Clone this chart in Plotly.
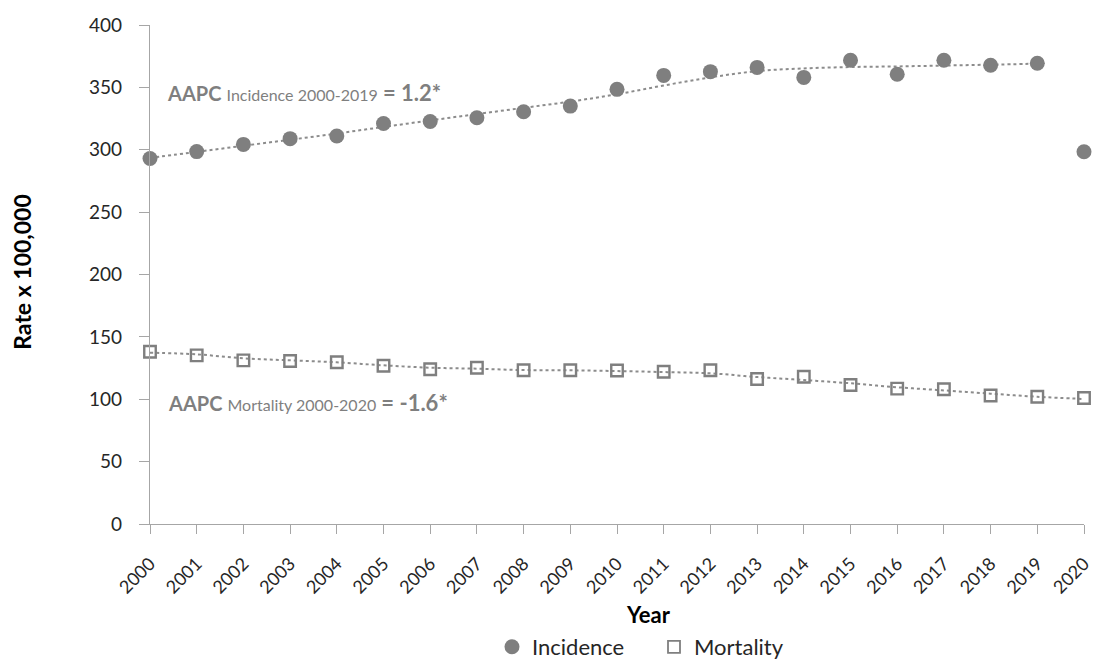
import plotly.graph_objects as go

years = list(range(2000, 2021))
incidence = [293.0, 298.5, 304.3, 308.9, 311.0, 321.0, 322.6, 325.7, 330.5, 335.0, 348.4,
             359.6, 362.6, 366.0, 358.0, 371.7, 360.5, 371.7, 367.7, 369.3, 298.4]
mortality = [138.1, 135.2, 131.2, 130.7, 129.6, 126.9, 124.0, 125.3, 123.2, 123.2, 123.0,
             122.0, 123.2, 116.2, 118.0, 111.4, 108.5, 108.0, 103.0, 102.0, 101.0]
trend_years_inc = list(range(2000, 2020))
incidence_trend = [293.5, 298.3, 303.2, 308.0, 313.0, 318.3, 323.5, 328.6, 333.6, 338.6, 344.5,
                   351.5, 358.0, 363.0, 365.2, 366.3, 366.8, 367.5, 368.2, 369.0]
mortality_trend = [137.3, 136.0, 132.8, 131.2, 129.6, 127.2, 125.3, 124.5, 123.4, 123.2, 122.6,
                   121.8, 120.8, 117.8, 115.4, 112.8, 109.6, 107.1, 104.5, 102.0, 100.2]
y_ticks = [0, 50, 100, 150, 200, 250, 300, 350, 400]

GREY = "#7F7F7F"
FONT = "Lato"
W, H = 1101, 661
ML, MR, MT, MB = 150, 8, 25, 137
PW, PH = W - ML - MR, H - MT - MB

fig = go.Figure()

trend_line = dict(color="#8C8C8C", width=2, dash="dot", shape="spline", smoothing=1)
fig.add_trace(go.Scatter(x=trend_years_inc, y=incidence_trend, mode="lines", line=trend_line,
                         showlegend=False, hoverinfo="skip", cliponaxis=False))
fig.add_trace(go.Scatter(x=years, y=mortality_trend, mode="lines", line=trend_line,
                         showlegend=False, hoverinfo="skip", cliponaxis=False))
fig.add_trace(go.Scatter(x=years, y=incidence, mode="markers",
                         marker=dict(symbol="circle", size=15, color=GREY),
                         showlegend=False, cliponaxis=False))
fig.add_trace(go.Scatter(x=years, y=mortality, mode="markers",
                         marker=dict(symbol="square-open", size=11.5, color=GREY,
                                     line=dict(width=2.4, color=GREY)),
                         showlegend=False, cliponaxis=False))

# legend entries
fig.add_trace(go.Scatter(x=[None], y=[None], mode="markers", name="Incidence",
                         marker=dict(symbol="circle", size=15, color=GREY)))
fig.add_trace(go.Scatter(x=[None], y=[None], mode="markers", name="Mortality",
                         marker=dict(symbol="square-open", size=12, color=GREY,
                                     line=dict(width=1.8, color=GREY))))

axis_col = "#A6A6A6"
fig.update_xaxes(range=[2000, 2020], tickmode="array", tickvals=years, ticktext=[str(y) for y in years],
                 tickangle=-45, showgrid=False, zeroline=False, showline=True, linecolor=axis_col,
                 linewidth=1.3, ticks="outside", ticklen=9, tickcolor=axis_col, tickwidth=1.3,
                 ticklabelstandoff=12, ticklabeloverflow="allow",
                 tickfont=dict(family=FONT, size=18, color="#262626"))
fig.update_yaxes(range=[0, 400], tickvals=y_ticks,
                 showgrid=False, zeroline=False, showline=True, linecolor=axis_col,
                 linewidth=1.3, ticks="outside", ticklen=10, tickcolor=axis_col, tickwidth=1.3,
                 ticklabelstandoff=13,
                 tickfont=dict(family=FONT, size=19, color="#262626"))

ann_font = dict(family=FONT, size=20, color=GREY)
fig.add_annotation(x=2000.33, y=346, xref="x", yref="y", xanchor="left", yanchor="middle",
                   text="<b>AAPC</b> <span style='font-size:16px'>Incidence 2000-2019</span> "
                        "<b><span style='font-size:22px'>= 1.2*</span></b>",
                   showarrow=False, font=ann_font)
fig.add_annotation(x=2000.34, y=97.2, xref="x", yref="y", xanchor="left", yanchor="middle",
                   text="<b>AAPC</b> <span style='font-size:16px'>Mortality 2000-2020</span> "
                        "<b><span style='font-size:22px'>= -1.6*</span></b>",
                   showarrow=False, font=ann_font)

fig.add_annotation(x=(20.5 - ML) / PW, y=(H - MB - 272) / PH, xref="paper", yref="paper",
                   xanchor="center", yanchor="middle",
                   text="<b>Rate x 100,000</b>", textangle=-90, showarrow=False,
                   font=dict(family=FONT, size=23, color="#000000"))
fig.add_annotation(x=(653 - ML) / PW, y=(H - MB - 614) / PH, xref="paper", yref="paper",
                   xanchor="center", yanchor="middle",
                   text="<b>Year</b>", showarrow=False,
                   font=dict(family=FONT, size=22, color="#000000"))

fig.update_layout(
    width=W, height=H,
    margin=dict(l=ML, r=MR, t=MT, b=MB),
    paper_bgcolor="white", plot_bgcolor="white",
    showlegend=True,
    legend=dict(orientation="h", xref="container", yref="container",
                x=492 / W, y=(H - 647) / H, xanchor="left", yanchor="middle",
                font=dict(family=FONT, size=22, color="#262626"),
                bgcolor="rgba(0,0,0,0)", entrywidth=117),
)

fig.write_html("out.html")
